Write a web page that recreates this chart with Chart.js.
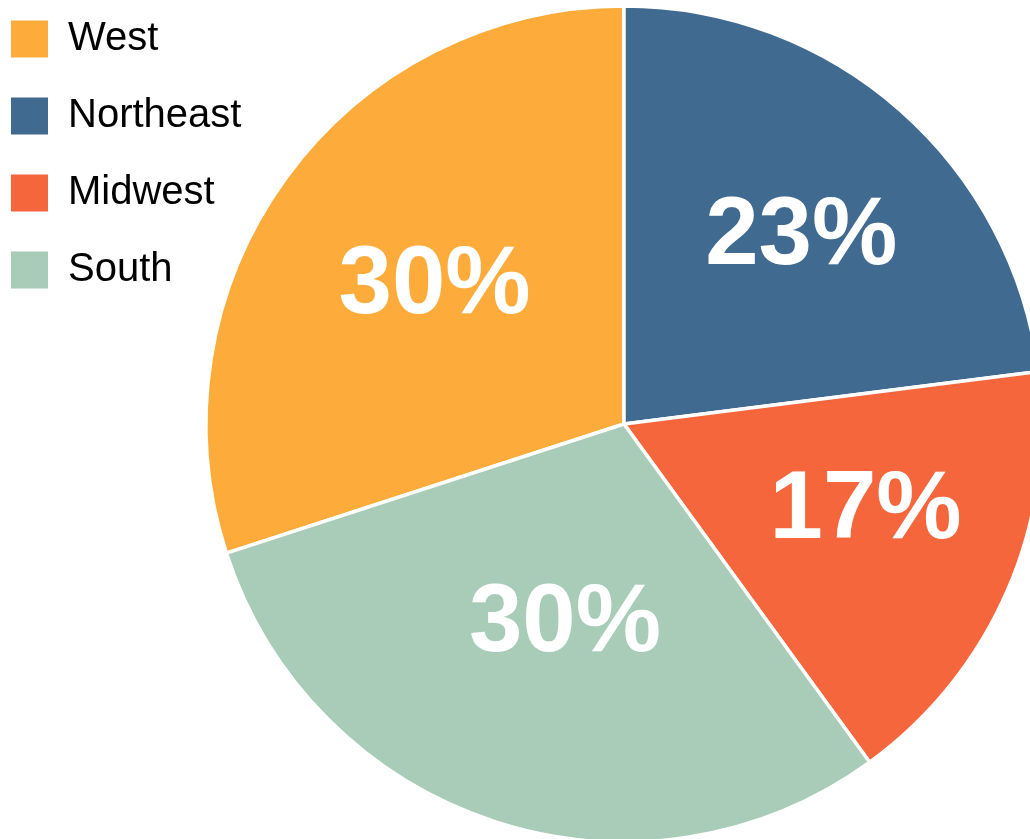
<!DOCTYPE html>
<html>
<head>
<meta charset="utf-8">
<title>Regions</title>
<script src="https://cdn.jsdelivr.net/npm/chart.js@4/dist/chart.umd.min.js"></script>
<style>
    html, body { margin: 0; padding: 0; background: #ffffff; overflow: hidden; }
    body { width: 1030px; height: 839px; position: relative; }
    #regions-chart { position: absolute; left: -26px; top: -18px; }
</style>
</head>
<body>
<canvas id="regions-chart" width="1300" height="884"></canvas>
<script>
const regions = ['West', 'Northeast', 'Midwest', 'South'];
const shares = [30, 23, 17, 30];
const regionColors = ['#fdac3b', '#406a8f', '#f6663d', '#a8ccb8'];

// where each percentage label sits: part of the radius, and a small turn (degrees) off the slice middle
const labelRadius = [0.56, 0.615, 0.615, 0.5];
const labelTurn = [0, 2.2, -3.4, -1.6];

const sliceLabels = {
    id: 'sliceLabels',
    afterDatasetsDraw( chart )
    {
        const ctx = chart.ctx;
        const arcs = chart.getDatasetMeta(0).data;
        ctx.save();
        ctx.fillStyle = '#ffffff';
        ctx.font = 'bold 96px "Liberation Sans", Arial, sans-serif';
        ctx.textAlign = 'center';
        ctx.textBaseline = 'middle';
        for( let i = 0; i < arcs.length; i++ )
        {
            const { x, y, startAngle, endAngle, outerRadius } = arcs[i].getProps(['x', 'y', 'startAngle', 'endAngle', 'outerRadius'], true);
            const mid = ( startAngle + endAngle ) / 2 + labelTurn[i] * Math.PI / 180;
            const r = outerRadius * labelRadius[i];
            ctx.fillText( shares[i] + '%', x + Math.cos(mid) * r, y + Math.sin(mid) * r );
        }
        ctx.restore();
    }
};

function displayRegionsPie()
{
    const ctx = document.getElementById('regions-chart').getContext('2d');
    new Chart( ctx, {
        type: 'pie',
        data: {
            labels: regions,
            datasets: [{
                data: shares,
                backgroundColor: regionColors,
                borderColor: '#ffffff',
                borderWidth: 3.5,
                radius: 418,
                rotation: -108,
            }]
        },
        options: {
            responsive: false,
            animation: false,
            layout: { padding: 0 },
            plugins: {
                tooltip: { enabled: false },
                legend: {
                    position: 'chartArea',
                    align: 'start',
                    labels: {
                        boxWidth: 37,
                        boxHeight: 37,
                        padding: 37,
                        color: '#000000',
                        font: { family: '"Liberation Sans", Arial, sans-serif', size: 40 },
                        generateLabels: chart => Chart.overrides.pie.plugins.legend.labels.generateLabels(chart)
                            .map( item => ({ ...item, lineWidth: 0 }) )
                    }
                }
            }
        },
        plugins: [sliceLabels]
    });
}

document.addEventListener('DOMContentLoaded', function(){

    displayRegionsPie();

});
</script>
</body>
</html>
